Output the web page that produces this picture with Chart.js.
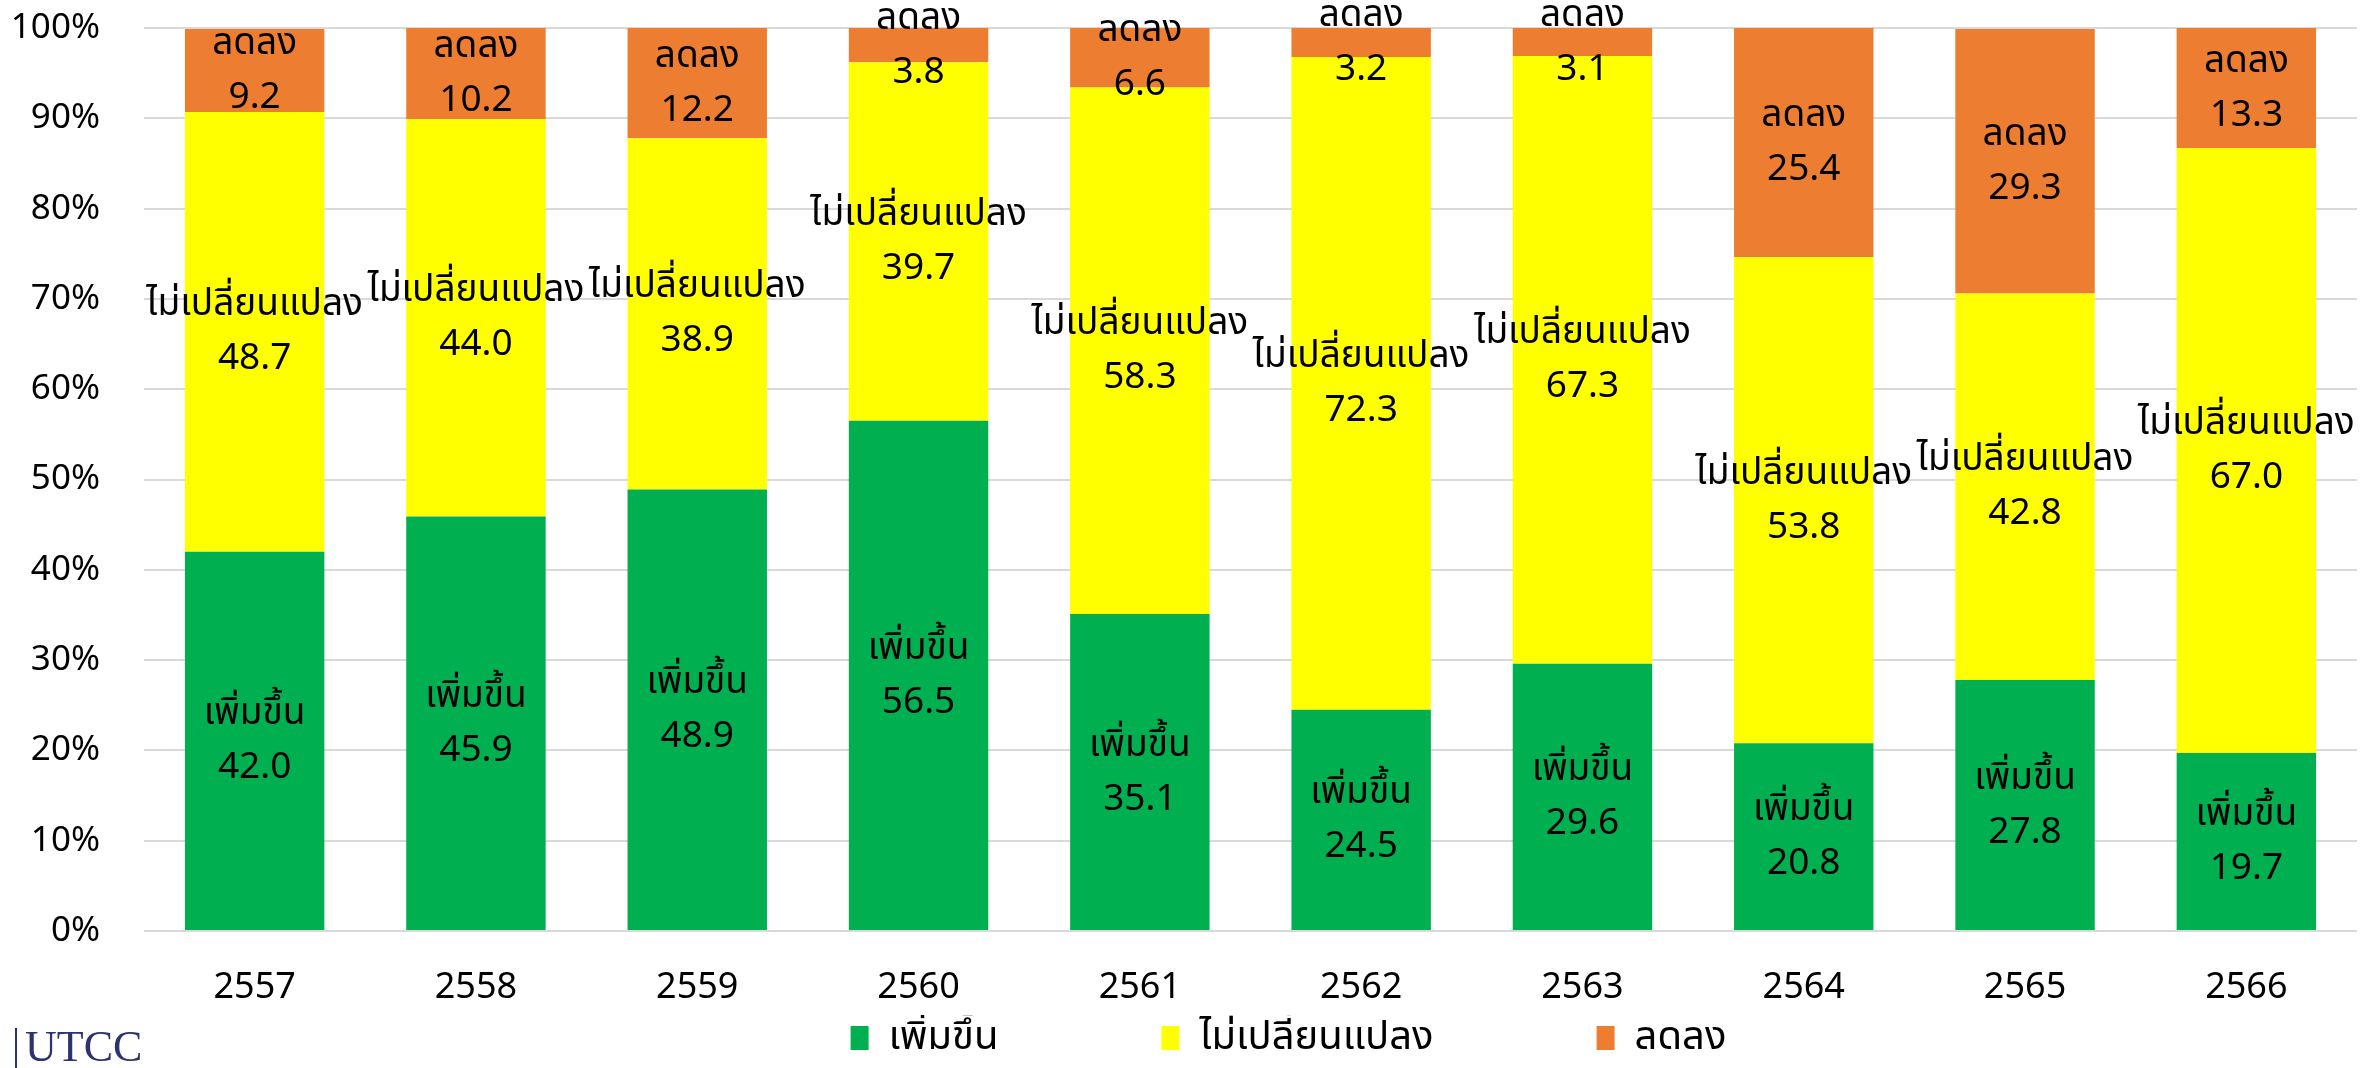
<!DOCTYPE html>
<html>
<head>
<meta charset="utf-8">
<script src="https://cdn.jsdelivr.net/npm/chart.js@4/dist/chart.umd.min.js"></script>
<style>
  html, body { margin: 0; padding: 0; background: #fff; }
  #wrap { width: 2374px; height: 1068px; position: relative; }
</style>
</head>
<body>
<div id="wrap"><canvas id="chart"></canvas></div>
<script>
// ข้อมูล (ร้อยละ)
const years = ['2557', '2558', '2559', '2560', '2561', '2562', '2563', '2564', '2565', '2566'];
const increased = [42.0, 45.9, 48.9, 56.5, 35.1, 24.5, 29.6, 20.8, 27.8, 19.7];
const unchanged = [48.7, 44.0, 38.9, 39.7, 58.3, 72.3, 67.3, 53.8, 42.8, 67.0];
const decreased = [9.2, 10.2, 12.2, 3.8, 6.6, 3.2, 3.1, 25.4, 29.3, 13.3];
const yTicks = [0, 10, 20, 30, 40, 50, 60, 70, 80, 90, 100];

const FONT = "'Noto Sans', 'Noto Sans Thai', 'Lato', sans-serif";

// ป้ายข้อมูลกลางแท่ง: ชื่อชุดข้อมูล + ค่า
const barLabels = {
  id: 'barLabels',
  afterDatasetsDraw(chart) {
    const ctx = chart.ctx;
    ctx.save();
    ctx.fillStyle = '#000';
    ctx.textAlign = 'center';
    ctx.textBaseline = 'middle';
    ctx.font = '37px ' + FONT;
    chart.data.datasets.forEach((ds, di) => {
      const meta = chart.getDatasetMeta(di);
      meta.data.forEach((bar, i) => {
        const cy = (bar.y + bar.base) / 2;
        ctx.fillText(ds.label, bar.x, cy - 27);
        ctx.fillText(ds.data[i].toFixed(1), bar.x, cy + 27);
      });
    });
    ctx.restore();
  }
};

// โลโก้ข้อความมุมล่างซ้าย + เลื่อนคำอธิบายไปทางขวาเล็กน้อย
const extras = {
  id: 'extras',
  afterLayout(chart) {
    const lg = chart.legend;
    lg.left += 110;
    lg.right += 110;
  },
  afterDraw(chart) {
    const ctx = chart.ctx;
    ctx.save();
    ctx.fillStyle = '#2d3270';
    ctx.fillRect(15, 1028, 2, 40);
    ctx.font = '44px "Liberation Serif", serif';
    ctx.textBaseline = 'alphabetic';
    ctx.fillText('UTCC', 25, 1061);
    ctx.restore();
  }
};

new Chart(document.getElementById('chart'), {
  type: 'bar',
  data: {
    labels: years,
    datasets: [
      { label: 'เพิ่มขึ้น', data: increased, backgroundColor: '#00B050' },
      { label: 'ไม่เปลี่ยนแปลง', data: unchanged, backgroundColor: '#FFFF00' },
      { label: 'ลดลง', data: decreased, backgroundColor: '#ED7D31' }
    ]
  },
  options: {
    responsive: true,
    maintainAspectRatio: false,
    animation: false,
    layout: { padding: { top: 28, right: 17, left: 0, bottom: 0 } },
    datasets: { bar: { categoryPercentage: 0.63, barPercentage: 1.0 } },
    scales: {
      x: {
        stacked: true,
        grid: { display: false },
        border: { display: false },
        ticks: { color: '#000', padding: 27, font: { family: FONT, size: 36 } },
        afterFit(scale) { scale.height = 84; }
      },
      y: {
        stacked: true,
        min: 0,
        max: 100,
        afterBuildTicks(scale) { scale.ticks = yTicks.map(v => ({ value: v })); },
        grid: { color: '#d9d9d9', lineWidth: 2, drawTicks: false },
        border: { display: false },
        ticks: {
          color: '#000',
          padding: 44,
          font: { family: FONT, size: 35 },
          callback: v => v + '%'
        },
        afterFit(scale) {
          scale.width = 144;
          scale.paddingTop = 0;
          scale.paddingBottom = 0;
        }
      }
    },
    plugins: {
      legend: {
        position: 'bottom',
        labels: {
          color: '#000',
          boxWidth: 18,
          boxHeight: 24,
          padding: 3,
          font: { family: FONT, size: 40 },
          generateLabels(chart) {
            const items = Chart.defaults.plugins.legend.labels.generateLabels(chart);
            items.forEach((it, i) => {
              if (i < items.length - 1) it.text = it.text + '\u2003\u2003\u2003\u2003';
            });
            return items;
          }
        }
      },
      tooltip: { enabled: false }
    }
  },
  plugins: [barLabels, extras]
});
</script>
</body>
</html>
